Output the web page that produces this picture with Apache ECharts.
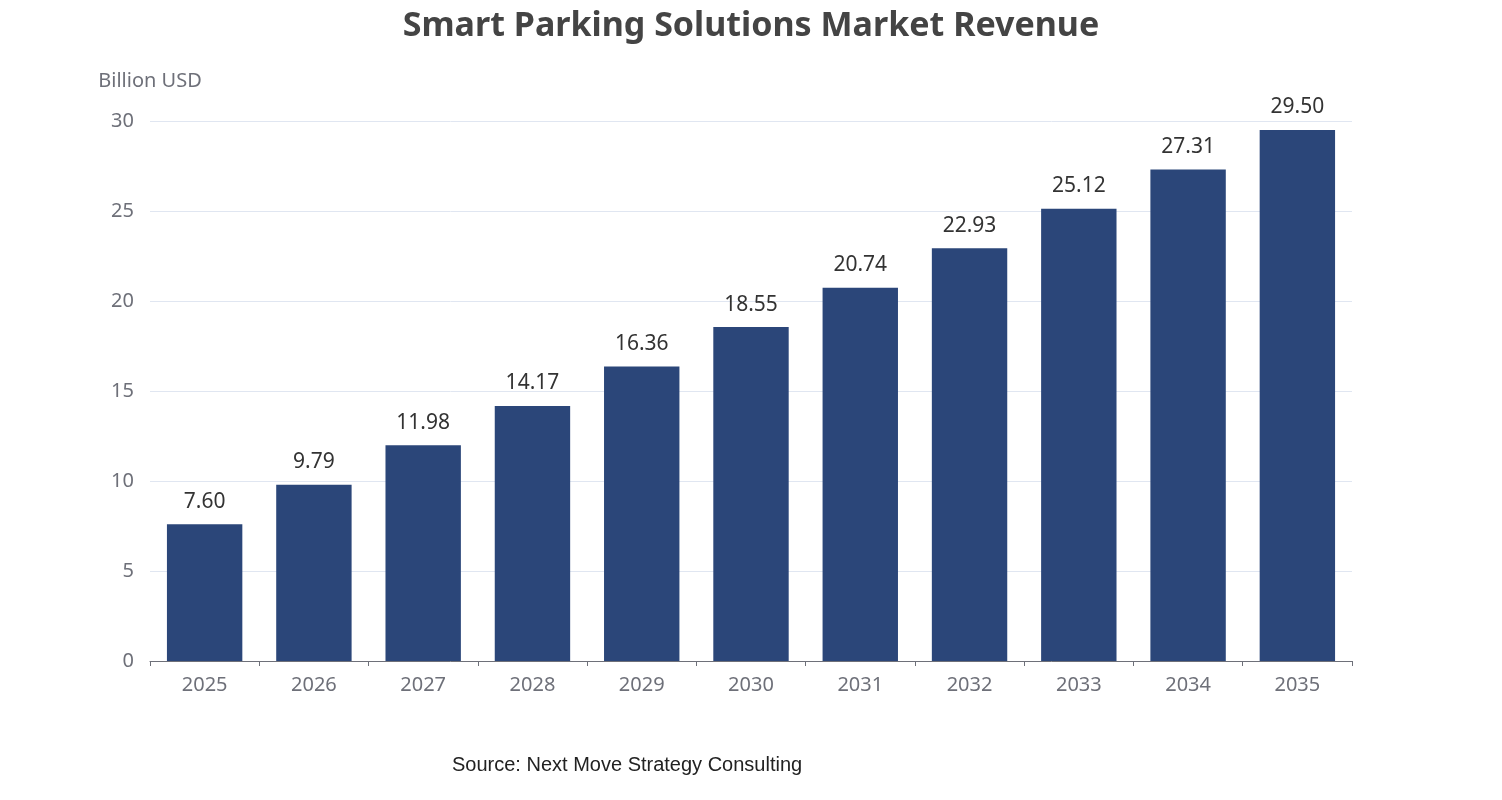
<!DOCTYPE html>
<html>
<head>
    <meta charset="utf-8">
    <title>ECharts</title>
    <script type="text/javascript" src="https://cdn.jsdelivr.net/npm/echarts@6/dist/echarts.min.js"></script>
</head>
<body style="margin:0">
    <div id="main" style="width: 1502px;height:800px;"></div>
    <script type="text/javascript">
        var years = ['2025', '2026', '2027', '2028', '2029', '2030', '2031', '2032', '2033', '2034', '2035'];
        var revenue = [7.60, 9.79, 11.98, 14.17, 16.36, 18.55, 20.74, 22.93, 25.12, 27.31, 29.50];

        var myChart = echarts.init(document.getElementById('main'));
        var font = '"Noto Sans", sans-serif';
        myChart.setOption({
            title: {
                text: 'Smart Parking Solutions Market Revenue',
                left: 'center',
                top: 4,
                textStyle: { fontSize: 34, fontWeight: 'bold', color: '#444', fontFamily: font }
            },
            graphic: [{
                type: 'text',
                left: 452,
                top: 755,
                style: { text: 'Source: Next Move Strategy Consulting', fontSize: 20, fill: '#222', fontFamily: 'Liberation Sans, Arial' }
            }],
            grid: { left: 150, right: 150, top: 121, bottom: 139 },
            xAxis: {
                type: 'category',
                data: years,
                axisLine: { lineStyle: { color: '#6e7079' } },
                axisTick: { show: true },
                axisLabel: { fontSize: 20, color: '#6e7079', margin: 14, fontFamily: font }
            },
            yAxis: {
                type: 'value',
                min: 0,
                max: 30,
                interval: 5,
                name: 'Billion USD',
                nameGap: 30,
                nameTextStyle: { fontSize: 20, color: '#6e7079', align: 'center', fontFamily: font },
                axisLabel: { fontSize: 20, color: '#6e7079', margin: 16, fontFamily: font },
                splitLine: { lineStyle: { color: '#e0e6f1' } }
            },
            series: [{
                type: 'bar',
                data: revenue,
                barWidth: '69%',
                itemStyle: { color: '#2b4679' },
                label: {
                    show: true,
                    position: 'top',
                    distance: 12,
                    fontSize: 21,
                    color: '#333',
                    fontFamily: font,
                    formatter: function (p) { return p.value.toFixed(2); }
                }
            }]
        });
    </script>
</body>
</html>
